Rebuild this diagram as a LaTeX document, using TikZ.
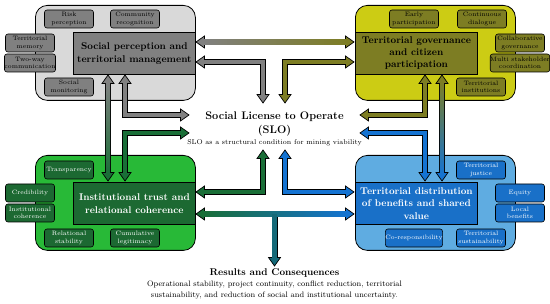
\documentclass[tikz,border=0pt]{standalone}
\definecolor{glight}{RGB}{217,217,217}
\definecolor{gdark}{RGB}{128,128,128}
\definecolor{ylight}{RGB}{204,204,20}
\definecolor{ydark}{RGB}{125,125,35}
\definecolor{grlight}{RGB}{40,185,55}
\definecolor{grdark}{RGB}{28,105,50}
\definecolor{blight}{RGB}{95,172,225}
\definecolor{bdark}{RGB}{25,112,200}
\definecolor{agreen}{RGB}{25,110,55}
\definecolor{ablue}{RGB}{20,115,210}
\definecolor{ateal}{RGB}{20,105,120}
\begin{document}
\begin{tikzpicture}[x=1pt,y=-1pt,
  outer/.style={draw=black,line width=0.8pt,rounded corners=12pt,anchor=north west,inner sep=0pt},
  inner/.style={draw=black,line width=0.8pt,anchor=north west,inner sep=0pt,align=center,
     minimum width=122pt,minimum height=42pt,font=\bfseries\fontsize{9.8}{13}\selectfont},
  small/.style={draw=black,line width=0.6pt,rounded corners=2.5pt,inner sep=0pt,align=center,
     minimum width=49pt,minimum height=18pt,font=\fontsize{6.3}{7.2}\selectfont},
  shaftout/.style={draw=black,line width=6pt,line join=miter,shorten <=7.5pt,shorten >=7.5pt},
  shaftin/.style={draw=#1,line width=4.2pt,line join=miter,shorten <=6.3pt,shorten >=6.3pt},
  pics/tip/.style={code={\draw[fill=#1,line width=0.7pt,line join=miter] (0,0) -- (-8.5,-6) -- (-8.5,6) -- cycle;}}
]
\useasboundingbox (0,0) rectangle (550,304);

% ---------- outer boxes ----------
\node[outer,fill=glight,minimum width=160pt,minimum height=95pt] (tlo) at (35,5) {};
\node[outer,fill=ylight,minimum width=160pt,minimum height=95pt] (tro) at (355,5) {};
\node[outer,fill=grlight,minimum width=160pt,minimum height=95pt] (blo) at (35,155) {};
\node[outer,fill=blight,minimum width=160pt,minimum height=95pt] (bro) at (355,155) {};

% ---------- inner boxes ----------
\node[inner,fill=gdark,text=black] (tl) at (73,32) {Social perception and\\territorial management};
\node[inner,fill=ydark,text=black,font=\bfseries\fontsize{9.8}{12}\selectfont] (tr) at (355,32) {Territorial governance\\and citizen\\participation};
\node[inner,fill=grdark,text=white] (bl) at (73,182) {Institutional trust and\\relational coherence};
\node[inner,fill=bdark,text=white,font=\bfseries\fontsize{9.8}{12.3}\selectfont] (br) at (355,182) {Territorial distribution\\of benefits and shared\\value};

% ---------- small boxes ----------
\node[small,fill=gdark] (s1) at (69,19) {Risk\\perception};
\node[small,fill=gdark] (s2) at (135,19) {Community\\recognition};
\node[small,fill=gdark] (s3) at (30,43) {Territorial\\memory};
\node[small,fill=gdark] (s4) at (30,63) {Two-way\\communication};
\node[small,fill=gdark] (s5) at (69,87) {Social\\monitoring};

\node[small,fill=ydark] (t1) at (414,19) {Early\\participation};
\node[small,fill=ydark] (t2) at (482,19) {Continuous\\dialogue};
\node[small,fill=ydark] (t3) at (520,43) {Collaborative\\governance};
\node[small,fill=ydark] (t4) at (520,63) {Multi stakeholder\\coordination};
\node[small,fill=ydark] (t5) at (481,87) {Territorial\\institutions};

\node[small,fill=grdark,text=white] (g1) at (69,170) {Transparency};
\node[small,fill=grdark,text=white] (g2) at (30,193) {Credibility};
\node[small,fill=grdark,text=white] (g3) at (30,213) {Institutional\\coherence};
\node[small,fill=grdark,text=white] (g4) at (69,238) {Relational\\stability};
\node[small,fill=grdark,text=white] (g5) at (135,238) {Cumulative\\legitimacy};

\node[small,fill=bdark,text=white] (b1) at (481,170) {Territorial\\justice};
\node[small,fill=bdark,text=white] (b2) at (520,193) {Equity};
\node[small,fill=bdark,text=white] (b3) at (520,213) {Local\\benefits};
\node[small,fill=bdark,text=white] (b4) at (414,238) {Co-responsibility};
\node[small,fill=bdark,text=white] (b5) at (481,238) {Territorial\\sustainability};

% ---------- centre texts ----------
\node[font=\bfseries\fontsize{11}{14}\selectfont,align=center] (slo) at (274.5,124) {Social License to Operate\\(SLO)};
\node[font=\fontsize{7}{8}\selectfont] (slosub) at (274.5,142.5) {SLO as a structural condition for mining viability};
\node[font=\bfseries\fontsize{9.8}{12}\selectfont] (res) at (274.5,273) {Results and Consequences};
\node[font=\fontsize{7.9}{11}\selectfont,align=center] (restext) at (274.5,290.5) {Operational stability, project continuity, conflict reduction, territorial\\sustainability, and reduction of social and institutional uncertainty.};

% ---------- connector coordinates ----------
\coordinate (a1s) at (196,42);  \coordinate (a1e) at (354,42);
\coordinate (a2s) at (196,62);  \coordinate (a2c) at (263,62);  \coordinate (a2e) at (263,103);
\coordinate (a3s) at (354,62);  \coordinate (a3c) at (285,62);  \coordinate (a3e) at (285,103);
\coordinate (a4s) at (125,75);  \coordinate (a4c) at (125,115); \coordinate (a4e) at (189,115);
\coordinate (a5s) at (108,75);  \coordinate (a5e) at (108,181);
\coordinate (a6s) at (125,181); \coordinate (a6c) at (125,133); \coordinate (a6e) at (189,133);
\coordinate (a7s) at (196,192); \coordinate (a7c) at (263,192); \coordinate (a7e) at (263,150);
\coordinate (a8s) at (196,214); \coordinate (a8e) at (354,214); \coordinate (a8m) at (274.5,214); \coordinate (a8d) at (274.5,266);
\coordinate (a9s) at (354,192); \coordinate (a9c) at (285,192); \coordinate (a9e) at (285,150);
\coordinate (a10s) at (425,75); \coordinate (a10c) at (425,115); \coordinate (a10e) at (360,115);
\coordinate (a11s) at (442,75); \coordinate (a11e) at (442,181);
\coordinate (a12s) at (425,181); \coordinate (a12c) at (425,133); \coordinate (a12e) at (360,133);

% ---------- black outline passes ----------
\draw[shaftout] (a1s) -- (a1e);
\draw[shaftout] (a2s) -- (a2c) -- (a2e);
\draw[shaftout] (a3s) -- (a3c) -- (a3e);
\draw[shaftout] (a4s) -- (a4c) -- (a4e);
\draw[shaftout] (a5s) -- (a5e);
\draw[shaftout] (a6s) -- (a6c) -- (a6e);
\draw[shaftout] (a7s) -- (a7c) -- (a7e);
\draw[shaftout] (a8s) -- (a8e);
\draw[shaftout,shorten <=0pt] (a8m) -- (a8d);
\draw[shaftout] (a9s) -- (a9c) -- (a9e);
\draw[shaftout] (a10s) -- (a10c) -- (a10e);
\draw[shaftout] (a11s) -- (a11e);
\draw[shaftout] (a12s) -- (a12c) -- (a12e);

% ---------- tips ----------
\pic[rotate=180] at (a1s) {tip=gdark};      \pic at (a1e) {tip=ydark};
\pic[rotate=180] at (a2s) {tip=gdark};      \pic[rotate=-90] at (a2e) {tip=gdark};
\pic at (a3s) {tip=ydark};                  \pic[rotate=-90] at (a3e) {tip=ydark};
\pic[rotate=90] at (a4s) {tip=gdark};       \pic at (a4e) {tip=gdark};
\pic[rotate=90] at (a5s) {tip=gdark};       \pic[rotate=-90] at (a5e) {tip=agreen};
\pic[rotate=-90] at (a6s) {tip=agreen};     \pic at (a6e) {tip=agreen};
\pic[rotate=180] at (a7s) {tip=agreen};     \pic[rotate=90] at (a7e) {tip=agreen};
\pic[rotate=180] at (a8s) {tip=agreen};     \pic at (a8e) {tip=ablue};
\pic[rotate=-90] at (a8d) {tip=ateal};
\pic at (a9s) {tip=ablue};                  \pic[rotate=90] at (a9e) {tip=ablue};
\pic[rotate=90] at (a10s) {tip=ydark};      \pic[rotate=180] at (a10e) {tip=ydark};
\pic[rotate=90] at (a11s) {tip=ydark};      \pic[rotate=-90] at (a11e) {tip=ablue};
\pic[rotate=-90] at (a12s) {tip=ablue};     \pic[rotate=180] at (a12e) {tip=ablue};

% ---------- colour passes ----------
\shade[left color=gdark,right color=ydark] (202.3,39.9) rectangle (347.7,44.1);
\draw[shaftin=gdark] (a2s) -- (a2c) -- (a2e);
\draw[shaftin=ydark] (a3s) -- (a3c) -- (a3e);
\draw[shaftin=gdark] (a4s) -- (a4c) -- (a4e);
\shade[top color=gdark,bottom color=agreen] (105.9,81.3) rectangle (110.1,174.7);
\draw[shaftin=agreen] (a6s) -- (a6c) -- (a6e);
\draw[shaftin=agreen] (a7s) -- (a7c) -- (a7e);
\shade[left color=agreen,right color=ablue] (202.3,211.9) rectangle (347.7,216.1);
\draw[shaftin=ateal,shorten <=0pt] (a8m) -- (a8d);
\draw[shaftin=ablue] (a9s) -- (a9c) -- (a9e);
\draw[shaftin=ydark] (a10s) -- (a10c) -- (a10e);
\shade[top color=ydark,bottom color=ablue] (439.9,81.3) rectangle (444.1,174.7);
\draw[shaftin=ablue] (a12s) -- (a12c) -- (a12e);
\end{tikzpicture}
\end{document}
